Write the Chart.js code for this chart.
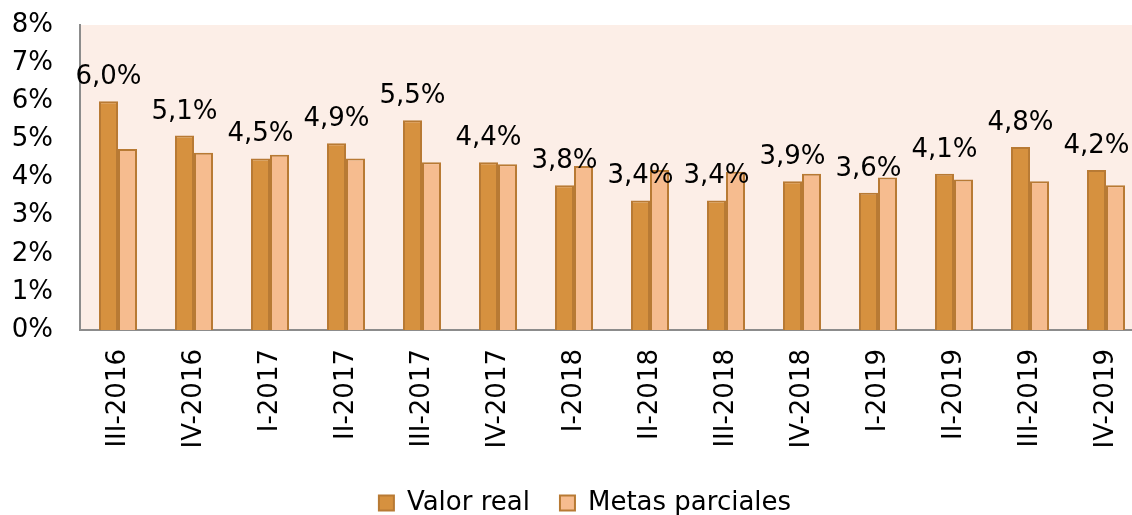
<!DOCTYPE html>
<html>
<head>
<meta charset="utf-8">
<script src="https://cdn.jsdelivr.net/npm/chart.js@4.4.1/dist/chart.umd.min.js"></script>
<style>
  html, body { margin: 0; padding: 0; background: #ffffff; overflow: hidden; }
  #wrap { width: 1132px; height: 515px; overflow: hidden; }
</style>
</head>
<body>
<div id="wrap"><canvas id="chart" width="1170" height="526"></canvas></div>
<script>
// Quarter labels
const categories = ['III-2016', 'IV-2016', 'I-2017', 'II-2017', 'III-2017', 'IV-2017',
  'I-2018', 'II-2018', 'III-2018', 'IV-2018', 'I-2019', 'II-2019', 'III-2019', 'IV-2019'];

// Actual value per quarter (%)
const valorReal = [6.0, 5.1, 4.5, 4.9, 5.5, 4.4, 3.8, 3.4, 3.4, 3.9, 3.6, 4.1, 4.8, 4.2];

// Partial targets per quarter (%)
const metasParciales = [4.75, 4.65, 4.6, 4.5, 4.4, 4.35, 4.3, 4.2, 4.15, 4.1, 4.0, 3.95, 3.9, 3.8];

// Y axis ticks (%)
const yTicks = [0, 1, 2, 3, 4, 5, 6, 7, 8];

const FONT = 'DejaVu Sans, Verdana, sans-serif';
const FONT_SIZE = 26;

// Pale fill behind the plot area
const plotBackground = {
  id: 'plotBackground',
  beforeDraw(chart) {
    const { ctx, chartArea } = chart;
    ctx.save();
    ctx.fillStyle = '#FCEEE7';
    ctx.fillRect(chartArea.left, chartArea.top, chartArea.right - chartArea.left, chartArea.bottom - chartArea.top);
    ctx.restore();
  }
};

// Centre the legend under the visible page width
const legendShift = {
  id: 'legendShift',
  afterLayout(chart) {
    const lg = chart.legend;
    if (lg) { lg.left += 13; lg.right += 13; }
  }
};

// Value labels above the "Valor real" bars
const realLabels = {
  id: 'realLabels',
  afterDatasetsDraw(chart) {
    const { ctx } = chart;
    const meta = chart.getDatasetMeta(0);
    ctx.save();
    ctx.font = FONT_SIZE + 'px ' + FONT;
    ctx.fillStyle = '#000000';
    ctx.textAlign = 'center';
    ctx.textBaseline = 'alphabetic';
    meta.data.forEach((bar, i) => {
      const txt = valorReal[i].toFixed(1).replace('.', ',') + '%';
      ctx.fillText(txt, bar.x, bar.y - 17);
    });
    ctx.restore();
  }
};

new Chart(document.getElementById('chart'), {
  type: 'bar',
  data: {
    labels: categories,
    datasets: [
      {
        label: 'Valor real',
        data: valorReal,
        backgroundColor: '#D6913F',
        borderColor: '#B87A34',
        borderWidth: 2,
        borderSkipped: 'bottom',
        categoryPercentage: 0.5,
        barPercentage: 1.0
      },
      {
        label: 'Metas parciales',
        data: metasParciales,
        backgroundColor: '#F6BC8F',
        borderColor: '#B87A34',
        borderWidth: 2,
        borderSkipped: 'bottom',
        categoryPercentage: 0.5,
        barPercentage: 1.0
      }
    ]
  },
  options: {
    responsive: false,
    animation: false,
    devicePixelRatio: 1,
    layout: { padding: { left: 0, right: 26, top: 25, bottom: 0 } },
    plugins: {
      legend: {
        position: 'bottom',
        labels: {
          font: { family: FONT, size: FONT_SIZE },
          color: '#000000',
          boxWidth: 15,
          boxHeight: 15,
          padding: 30
        }
      },
      tooltip: { enabled: false }
    },
    scales: {
      x: {
        grid: { display: false },
        border: { display: true, color: '#8C8C8C', width: 2 },
        ticks: {
          font: { family: FONT, size: FONT_SIZE },
          color: '#000000',
          minRotation: 90,
          maxRotation: 90,
          padding: 11
        },
        afterFit(scale) {
          scale.height = 130;
          scale.paddingTop = 0;
          scale.paddingBottom = 0;
        }
      },
      y: {
        min: 0,
        max: 8,
        grid: { display: false, drawTicks: false },
        border: { display: true, color: '#8C8C8C', width: 2 },
        afterBuildTicks(scale) { scale.ticks = yTicks.map(v => ({ value: v })); },
        ticks: {
          font: { family: FONT, size: FONT_SIZE },
          color: '#000000',
          padding: 27,
          callback: v => v + '%'
        },
        afterFit(scale) {
          scale.width = 80;
          scale.paddingTop = 0;
          scale.paddingBottom = 0;
        }
      }
    }
  },
  plugins: [plotBackground, legendShift, realLabels]
});
</script>
</body>
</html>
